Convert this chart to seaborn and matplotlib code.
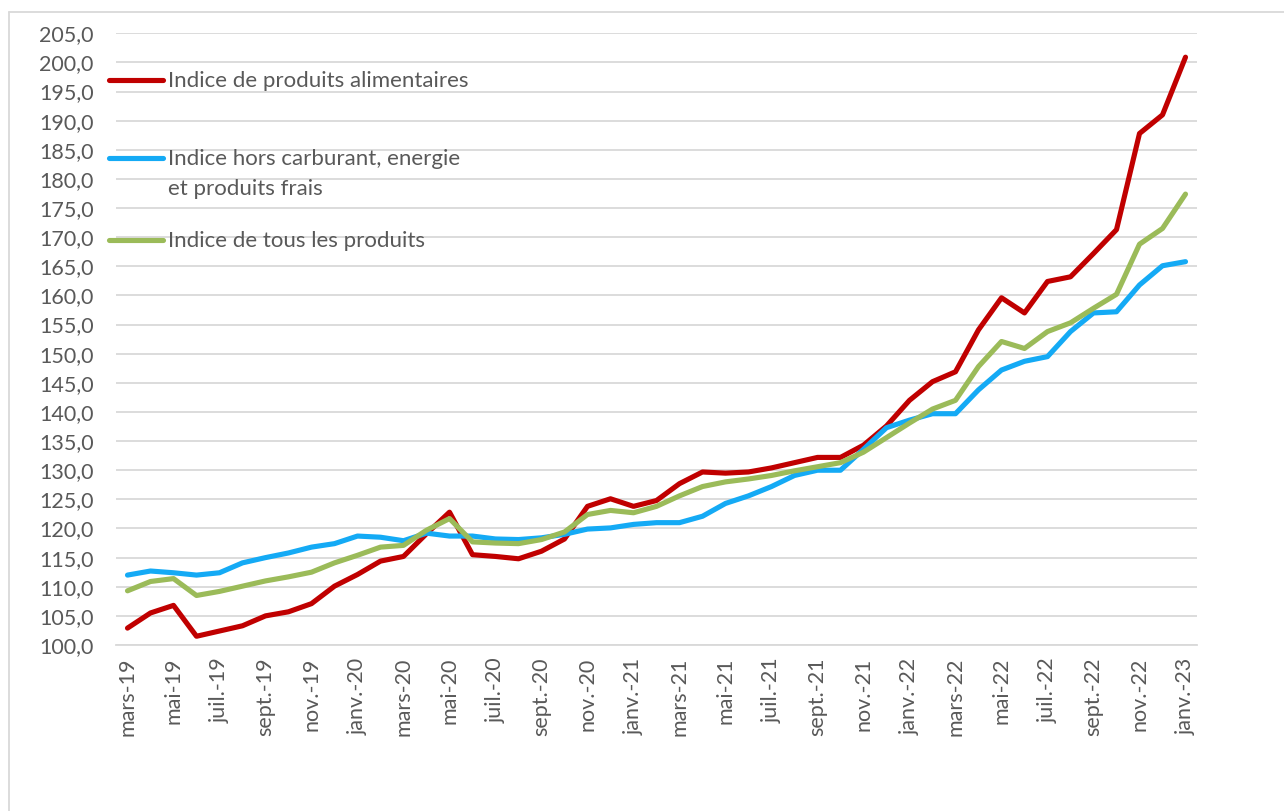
import matplotlib
matplotlib.use("Agg")
import matplotlib.pyplot as plt
import seaborn as sns
import numpy as np
import pandas as pd
from matplotlib.lines import Line2D
from matplotlib.ticker import FixedLocator, FuncFormatter

# ---------------- data ----------------
tick_labels = ["mars-19", "mai-19", "juil.-19", "sept.-19", "nov.-19", "janv.-20",
               "mars-20", "mai-20", "juil.-20", "sept.-20", "nov.-20", "janv.-21",
               "mars-21", "mai-21", "juil.-21", "sept.-21", "nov.-21", "janv.-22",
               "mars-22", "mai-22", "juil.-22", "sept.-22", "nov.-22", "janv.-23"]

alimentaires = [102.9, 105.5, 106.8, 101.5, 102.4, 103.3, 105.0, 105.7, 107.1, 110.1,
                112.1, 114.4, 115.2, 119.1, 122.8, 115.5, 115.2, 114.8, 116.1, 118.2,
                123.8, 125.1, 123.8, 124.8, 127.7, 129.7, 129.5, 129.7, 130.4, 131.3,
                132.2, 132.2, 134.3, 137.6, 142.0, 145.2, 146.9, 154.1, 159.6, 157.0,
                162.4, 163.2, 167.2, 171.3, 187.8, 191.0, 200.9]

hors_carburant = [112.0, 112.7, 112.4, 112.0, 112.4, 114.1, 115.0, 115.8, 116.8, 117.4,
                  118.7, 118.5, 117.9, 119.2, 118.7, 118.7, 118.2, 118.1, 118.4, 119.0,
                  119.9, 120.1, 120.7, 121.0, 121.0, 122.1, 124.3, 125.6, 127.2, 129.1,
                  130.0, 130.0, 133.6, 137.3, 138.6, 139.7, 139.7, 143.8, 147.2, 148.7,
                  149.5, 153.8, 157.0, 157.2, 161.8, 165.1, 165.8]

tous_produits = [109.3, 110.9, 111.4, 108.5, 109.2, 110.1, 111.0, 111.7, 112.5, 114.1,
                 115.4, 116.8, 117.1, 119.7, 121.7, 117.7, 117.5, 117.4, 118.1, 119.4,
                 122.4, 123.1, 122.7, 123.8, 125.6, 127.2, 128.0, 128.5, 129.1, 129.9,
                 130.6, 131.3, 133.1, 135.6, 138.1, 140.5, 142.0, 147.8, 152.1, 150.9,
                 153.8, 155.3, 157.8, 160.2, 168.8, 171.5, 177.4]

series_names = ["Indice de produits alimentaires",
                "Indice hors carburant, energie\net produits frais",
                "Indice de tous les produits"]
series_colors = ["#C00000", "#14AAF5", "#9BBB59"]

n = len(alimentaires)
df = pd.DataFrame({
    "idx": list(range(n)) * 3,
    "value": alimentaires + hors_carburant + tous_produits,
    "series": [series_names[0]] * n + [series_names[1]] * n + [series_names[2]] * n,
})

# ---------------- style ----------------
sns.set_theme(style="white")
plt.rcParams["font.family"] = ["Lato", "DejaVu Sans"]

W, H = 1284, 811
fig = plt.figure(figsize=(W / 100, H / 100), dpi=100)
ax = fig.add_axes([116 / W, 1 - 645 / H, (1197 - 116) / W, (645 - 33.3) / H])

sns.lineplot(data=df, x="idx", y="value", hue="series", hue_order=series_names,
             palette=dict(zip(series_names, series_colors)), linewidth=3.7,
             legend=False, ax=ax, solid_capstyle="round", solid_joinstyle="round")

grid_c = "#D9D9D9"
text_c = "#595959"

ax.set_xlim(-0.5, n - 0.5)
ax.set_ylim(100, 205)
ax.yaxis.set_major_locator(FixedLocator(np.arange(100, 205.1, 5)))
ax.yaxis.set_major_formatter(FuncFormatter(lambda v, p: f"{v:.1f}".replace(".", ",")))
ax.grid(axis="y", color=grid_c, linewidth=1.3)
ax.set_axisbelow(True)

ax.set_xticks(np.arange(0, n, 2))
ax.set_xticklabels(tick_labels, rotation=90)
ax.set_xticks(np.arange(-0.5, n - 1, 2), minor=True)
ax.tick_params(axis="x", which="major", length=0, pad=9, labelsize=15.5, labelcolor=text_c)
ax.tick_params(axis="x", which="minor", length=5.5, width=1.2, color=grid_c, direction="out")
ax.tick_params(axis="y", length=0, pad=16, labelsize=15.5, labelcolor=text_c)
ax.set_xlabel("")
ax.set_ylabel("")

for s in ["left", "right", "top"]:
    ax.spines[s].set_visible(False)
ax.spines["bottom"].set_color(grid_c)
ax.spines["bottom"].set_linewidth(1.3)

# ---------------- legend (manual) ----------------
leg_y = [80, 158, 240]
for name, col, yy in zip(series_names, series_colors, leg_y):
    fig.add_artist(Line2D([109 / W, 163 / W], [1 - yy / H, 1 - yy / H], color=col,
                          linewidth=3.7, solid_capstyle="round",
                          transform=fig.transFigure))
    for k, line in enumerate(name.split("\n")):
        fig.text(168 / W, 1 - (yy + 1 + 30 * k) / H, line, ha="left", va="center",
                 fontsize=16, color=text_c)

# ---------------- chart frame ----------------
fig.add_artist(Line2D([8.5 / W, 8.5 / W], [1 - 11.5 / H, 0], color=grid_c, linewidth=1.3,
                      transform=fig.transFigure))
fig.add_artist(Line2D([8.5 / W, 1], [1 - 11.5 / H, 1 - 11.5 / H], color=grid_c,
                      linewidth=1.3, transform=fig.transFigure))

fig.savefig("out.png", dpi=100)
